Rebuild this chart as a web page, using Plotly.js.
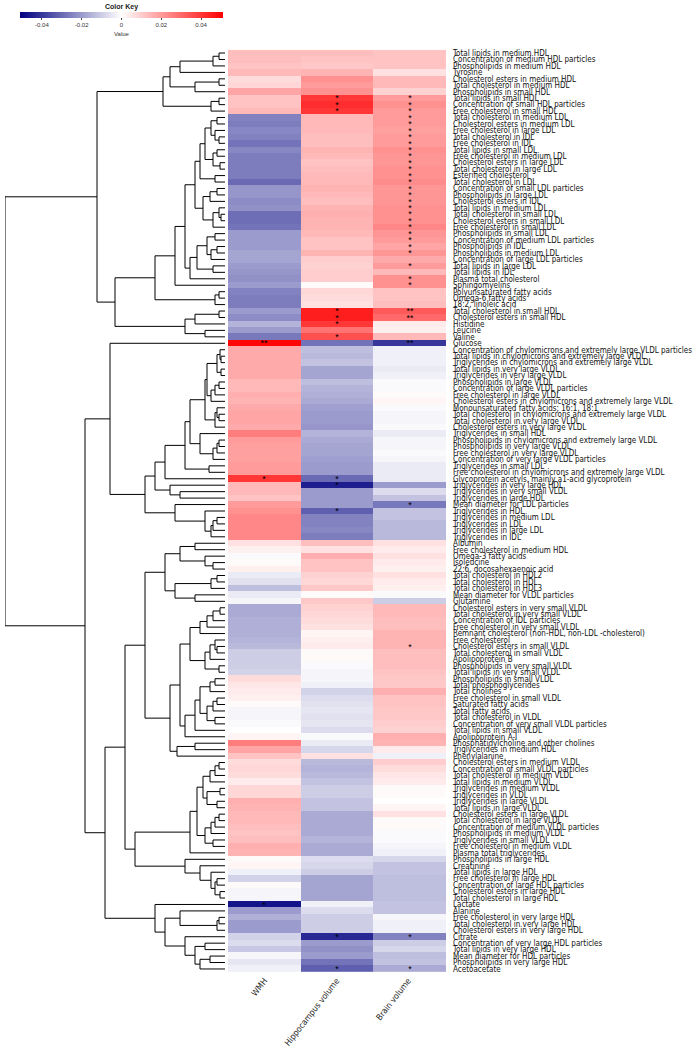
<!DOCTYPE html>
<html><head><meta charset="utf-8">
<script src="https://cdn.plot.ly/plotly-3.0.1.min.js"></script>
<style>body{margin:0;padding:0;background:#fff}#chart{width:700px;height:1052px}</style>
</head><body><div id="chart"></div>
<script>
const labels = [
"Total lipids in medium HDL","Concentration of medium HDL particles","Phospholipids in medium HDL","Tyrosine",
"Cholesterol esters in medium HDL","Total cholesterol in medium HDL","Phospholipids in small HDL","Total lipids in small HDL",
"Concentration of small HDL particles","Free cholesterol in small HDL","Total cholesterol in medium LDL","Cholesterol esters in medium LDL",
"Free cholesterol in large LDL","Total cholesterol in IDL","Free cholesterol in IDL","Total lipids in small LDL",
"Free cholesterol in medium LDL","Cholesterol esters in large LDL","Total cholesterol in large LDL","Esterified cholesterol",
"Total cholesterol in LDL","Concentration of small LDL particles","Phospholipids in large LDL","Cholesterol esters in IDL",
"Total lipids in medium LDL","Total cholesterol in small LDL","Cholesterol esters in small LDL","Free cholesterol in small LDL",
"Phospholipids in small LDL","Concentration of medium LDL particles","Phospholipids in IDL","Phospholipids in medium LDL",
"Concentration of large LDL particles","Total lipids in large LDL","Total lipids in IDL","Plasma total cholesterol",
"Sphingomyelins","Polyunsaturated fatty acids","Omega-6 fatty acids","18:2, linoleic acid",
"Total cholesterol in small HDL","Cholesterol esters in small HDL","Histidine","Leucine","Valine","Glucose",
"Concentration of chylomicrons and extremely large VLDL particles","Total lipids in chylomicrons and extremely large VLDL",
"Triglycerides in chylomicrons and extremely large VLDL","Total lipids in very large VLDL","Triglycerides in very large VLDL",
"Phospholipids in large VLDL","Concentration of large VLDL particles","Free cholesterol in large VLDL",
"Cholesterol esters in chylomicrons and extremely large VLDL","Monounsaturated fatty acids; 16:1, 18:1",
"Total cholesterol in chylomicrons and extremely large VLDL","Total cholesterol in very large VLDL","Cholesterol esters in very large VLDL",
"Triglycerides in small HDL","Phospholipids in chylomicrons and extremely large VLDL","Phospholipids in very large VLDL",
"Free cholesterol in very large VLDL","Concentration of very large VLDL particles","Triglycerides in small LDL",
"Free cholesterol in chylomicrons and extremely large VLDL","Glycoprotein acetyls, mainly a1-acid glycoprotein",
"Triglycerides in very large HDL","Triglycerides in very small VLDL","Triglycerides in large HDL","Mean diameter for LDL particles",
"Triglycerides in HDL","Triglycerides in medium LDL","Triglycerides in LDL","Triglycerides in large LDL","Triglycerides in IDL",
"Albumin","Free cholesterol in medium HDL","Omega-3 fatty acids","Isoleucine","22:6, docosahexaenoic acid",
"Total cholesterol in HDL2","Total cholesterol in HDL","Total cholesterol in HDL3","Mean diameter for VLDL particles","Glutamine",
"Cholesterol esters in very small VLDL","Total cholesterol in very small VLDL","Concentration of IDL particles",
"Free cholesterol in very small VLDL","Remnant cholesterol (non-HDL, non-LDL -cholesterol)","Free cholesterol",
"Cholesterol esters in small VLDL","Total cholesterol in small VLDL","Apolipoprotein B","Phospholipids in very small VLDL",
"Total lipids in very small VLDL","Phospholipids in small VLDL","Total phosphoglycerides","Total cholines",
"Free cholesterol in small VLDL","Saturated fatty acids","Total fatty acids","Total cholesterol in VLDL",
"Concentration of very small VLDL particles","Total lipids in small VLDL","Apolipoprotein A-I",
"Phosphatidylcholine and other cholines","Triglycerides in medium HDL","Phenylalanine","Cholesterol esters in medium VLDL",
"Concentration of small VLDL particles","Total cholesterol in medium VLDL","Total lipids in medium VLDL",
"Triglycerides in medium VLDL","Triglycerides in VLDL","Triglycerides in large VLDL","Total lipids in large VLDL",
"Cholesterol esters in large VLDL","Total cholesterol in large VLDL","Concentration of medium VLDL particles",
"Phospholipids in medium VLDL","Triglycerides in small VLDL","Free cholesterol in medium VLDL","Plasma total triglycerides",
"Phospholipids in large HDL","Creatinine","Total lipids in large HDL","Free cholesterol in large HDL",
"Concentration of large HDL particles","Cholesterol esters in large HDL","Total cholesterol in large HDL","Lactate","Alanine",
"Free cholesterol in very large HDL","Total cholesterol in very large HDL","Cholesterol esters in very large HDL","Citrate",
"Concentration of very large HDL particles","Total lipids in very large HDL","Mean diameter for HDL particles",
"Phospholipids in very large HDL","Acetoacetate"];

const columns = ["WMH", "Hippocampus volume", "Brain volume"];

const wmh = [
0.013,0.013,0.012,0.014,0.007,0.008,0.018,0.012,0.012,0.014,
-0.025,-0.026,-0.024,-0.025,-0.028,-0.024,-0.026,-0.026,-0.026,-0.026,
-0.030,-0.021,-0.021,-0.023,-0.022,-0.029,-0.029,-0.028,-0.020,-0.020,
-0.020,-0.018,-0.018,-0.020,-0.021,-0.022,-0.020,-0.025,-0.026,-0.026,
-0.020,-0.023,-0.015,-0.020,-0.027,0.050,0.017,0.017,0.017,0.017,
0.017,0.014,0.014,0.016,0.015,0.017,0.018,0.018,0.017,0.026,
0.020,0.019,0.019,0.019,0.020,0.020,0.040,0.014,0.014,0.012,
0.020,0.022,0.024,0.024,0.024,0.024,0.006,0.003,-0.001,0.001,
0.003,-0.004,-0.006,-0.013,-0.004,-0.002,-0.017,-0.017,-0.016,-0.016,
-0.016,-0.015,-0.014,-0.010,-0.010,-0.010,-0.009,0.007,0.005,0.004,
0.003,0.001,-0.002,-0.002,-0.001,0.000,0.002,0.026,0.018,0.012,
0.007,0.008,0.007,0.004,0.008,0.008,0.016,0.015,0.014,0.014,
0.013,0.012,0.013,0.016,0.015,0.001,0.002,-0.003,-0.009,0.001,
-0.002,-0.002,-0.047,-0.020,-0.016,-0.020,-0.020,-0.009,-0.007,-0.011,
-0.002,-0.005,-0.003];

const hippo = [
0.013,0.012,0.011,0.015,0.022,0.020,0.022,0.040,0.042,0.040,
0.014,0.014,0.014,0.013,0.013,0.015,0.014,0.012,0.013,0.014,
0.014,0.015,0.014,0.013,0.015,0.016,0.015,0.015,0.014,0.012,
0.012,0.015,0.010,0.009,0.010,0.010,0.001,0.008,0.007,0.006,
0.045,0.045,0.040,0.028,0.035,-0.028,-0.013,-0.014,-0.012,-0.018,
-0.018,-0.013,-0.015,-0.016,-0.017,-0.019,-0.020,-0.020,-0.021,-0.015,
-0.017,-0.018,-0.018,-0.019,-0.020,-0.020,-0.030,-0.045,-0.020,-0.020,
-0.020,-0.032,-0.025,-0.025,-0.024,-0.026,0.013,0.006,0.016,0.012,
0.012,0.009,0.008,0.011,0.001,0.011,0.009,0.008,0.007,0.006,
0.002,0.003,0.004,0.001,0.001,-0.001,-0.002,-0.002,-0.003,-0.009,
-0.007,-0.006,-0.005,-0.006,-0.005,-0.007,-0.001,-0.004,-0.008,0.006,
-0.014,-0.015,-0.014,-0.012,-0.010,-0.010,-0.012,-0.012,-0.017,-0.017,
-0.017,-0.017,-0.015,-0.017,-0.017,-0.007,-0.008,-0.010,-0.018,-0.018,
-0.018,-0.018,-0.003,-0.007,-0.010,-0.010,-0.010,-0.043,-0.020,-0.022,
-0.020,-0.028,-0.032];

const brain = [
0.012,0.012,0.012,0.006,0.014,0.014,0.009,0.020,0.022,0.020,
0.020,0.020,0.019,0.020,0.020,0.022,0.021,0.021,0.022,0.022,
0.023,0.021,0.021,0.021,0.022,0.022,0.022,0.024,0.021,0.020,
0.018,0.021,0.017,0.020,0.014,0.022,0.022,0.012,0.012,0.013,
0.033,0.030,0.004,0.003,0.014,-0.040,-0.003,-0.003,-0.003,-0.004,
-0.003,-0.001,-0.001,0.001,0.002,-0.001,-0.002,-0.002,-0.001,-0.004,
-0.002,-0.002,-0.001,-0.002,-0.004,-0.004,-0.004,-0.020,-0.007,-0.012,
-0.027,-0.012,-0.012,-0.014,-0.014,-0.014,0.006,0.004,0.006,0.004,
0.003,0.006,0.004,0.003,-0.001,-0.010,0.014,0.014,0.013,0.013,
0.015,0.015,0.015,0.013,0.013,0.013,0.012,0.011,0.011,0.016,
0.012,0.012,0.011,0.011,0.010,0.009,0.016,0.015,0.004,-0.003,
0.010,0.007,0.005,0.004,0.001,0.001,0.000,0.002,0.006,0.001,
0.001,-0.001,-0.001,-0.002,-0.003,-0.008,-0.012,-0.012,-0.013,-0.013,
-0.013,-0.013,-0.012,-0.012,-0.002,-0.003,-0.003,-0.025,-0.010,-0.008,
-0.013,-0.012,-0.017];

// significance marks: [row number (1-based), mark]
const sigWMH = [[46,"**"],[67,"*"],[133,"*"]];
const sigHippo = [[8,"*"],[9,"*"],[10,"*"],[41,"*"],[42,"*"],[43,"*"],[45,"*"],[67,"*"],[68,"*"],[72,"*"],[138,"*"],[143,"*"]];
const sigBrain = [[8,"*"],[9,"*"],[10,"*"],[11,"*"],[12,"*"],[13,"*"],[14,"*"],[15,"*"],[16,"*"],[17,"*"],[18,"*"],[19,"*"],
[20,"*"],[21,"*"],[22,"*"],[23,"*"],[24,"*"],[25,"*"],[26,"*"],[27,"*"],[28,"*"],[29,"*"],[30,"*"],[31,"*"],[32,"*"],
[34,"*"],[36,"*"],[37,"*"],[41,"**"],[42,"**"],[46,"**"],[71,"*"],[93,"*"],[138,"*"],[143,"*"]];

// dendrogram: merge height between adjacent leaves i and i+1 (rows in display order)
const gapHeights = [
6,12,45,55,6,30,62,6,14,128,
8,14,10,6,20,8,12,5,25,10,
30,8,15,22,6,4,12,40,10,18,
8,14,28,12,35,50,70,6,10,110,
6,30,40,20,220,115,5,4,8,4,
18,6,10,14,20,8,6,10,35,25,
6,8,12,40,16,60,70,55,45,80,
50,20,8,12,14,140,30,45,20,12,
60,8,14,50,30,80,5,12,18,25,
35,10,8,15,20,6,45,10,15,25,
8,12,18,10,30,40,55,30,48,100,
6,10,15,22,5,18,8,28,6,10,
14,20,12,35,90,40,25,14,8,10,
5,120,70,45,6,8,60,40,20,30,
15,25];

const nRows = labels.length;
const idx = labels.map((_, i) => i);
const z = idx.map(i => [wmh[i], hippo[i], brain[i]]);
const txt = idx.map(() => ["", "", ""]);
sigWMH.forEach(([r, m]) => { txt[r - 1][0] = m; });
sigHippo.forEach(([r, m]) => { txt[r - 1][1] = m; });
sigBrain.forEach(([r, m]) => { txt[r - 1][2] = m; });

// build dendrogram segments
const dx = [], dy = [];
function seg(x0, y0, x1, y1) { dx.push(x0, x1, null); dy.push(y0, y1, null); }
function build(a, b) {
  if (a === b) return { y: a, h: 0 };
  let k = a;
  for (let j = a; j < b; j++) if (gapHeights[j] > gapHeights[k]) k = j;
  const L = build(a, k), R = build(k + 1, b), h = gapHeights[k];
  seg(L.h, L.y, h, L.y); seg(R.h, R.y, h, R.y); seg(h, L.y, h, R.y);
  return { y: (L.y + R.y) / 2, h: h };
}
const rootNode = build(0, nRows - 1);

const W = 700, H = 1052;
const hmTop = 49.8, hmBottom = 972.2;
const yDom = [1 - hmBottom / H, 1 - hmTop / H];
const colLabelX = [272, 344, 416];

const data = [
  {
    type: "heatmap", x: [0, 1, 2], y: idx, z: z,
    text: txt, texttemplate: "%{text}", textfont: { size: 9, color: "#000" },
    colorscale: [[0, "#000080"], [0.5, "#ffffff"], [1, "#ff0000"]],
    zmin: -0.051, zmax: 0.051, hoverinfo: "skip",
    colorbar: {
      orientation: "h", x: 121.5 / W, xanchor: "center", y: 1 - 12.3 / H, yanchor: "top",
      len: 203 / W, lenmode: "fraction", thickness: 6, outlinewidth: 0, xpad: 0, ypad: 0,
      tickvals: [-0.04, -0.02, 0, 0.02, 0.04], ticktext: ["-0.04", "-0.02", "0", "0.02", "0.04"],
      ticks: "outside", ticklen: 2, tickcolor: "#444", tickfont: { size: 6, color: "#333", family: "Liberation Sans, Arial" },
      title: { text: "Value", side: "bottom", font: { size: 6, color: "#333", family: "Liberation Sans, Arial" } }
    }
  },
  {
    type: "scatter", mode: "lines", x: dx, y: dy, xaxis: "x2", yaxis: "y2",
    line: { color: "#000", width: 1 }, hoverinfo: "skip", showlegend: false
  }
];

const annotations = [
  { text: "<b>Color Key</b>", x: 121.5 / W, y: 1 - 7 / H, xref: "paper", yref: "paper",
    xanchor: "center", yanchor: "middle", showarrow: false, font: { size: 7, color: "#222" } }
];
columns.forEach((c, i) => annotations.push({
  text: c, x: colLabelX[i] / W, y: 1 - 973 / H, xref: "paper", yref: "paper",
  xanchor: "right", yanchor: "top", textangle: -52, showarrow: false,
  font: { size: 8.5, color: "#222", family: "DejaVu Sans Condensed, Liberation Sans, Arial" }
}));

const layout = {
  width: W, height: H, margin: { l: 0, r: 0, t: 0, b: 0 },
  paper_bgcolor: "#fff", plot_bgcolor: "#fff", showlegend: false,
  font: { family: "Liberation Sans, Arial, sans-serif", color: "#000" },
  xaxis: {
    domain: [228 / W, 446 / W], range: [-0.5, 2.5], showticklabels: false, ticks: "",
    showgrid: false, zeroline: false, showline: false, fixedrange: true
  },
  yaxis: {
    domain: yDom, range: [nRows - 0.5, -0.5], tickvals: idx, ticktext: labels, side: "right",
    ticks: "", ticklabelstandoff: 6, tickfont: { size: 8, color: "#111", family: "DejaVu Sans Condensed, Liberation Sans, Arial" },
    showgrid: false, zeroline: false, showline: false, fixedrange: true, anchor: "x"
  },
  xaxis2: {
    domain: [5 / W, 225 / W], range: [rootNode.h, 0], visible: false, anchor: "y2", fixedrange: true
  },
  yaxis2: {
    domain: yDom, range: [nRows - 0.5, -0.5], visible: false, anchor: "x2", fixedrange: true
  },
  annotations: annotations
};

Plotly.newPlot("chart", data, layout, { displayModeBar: false, staticPlot: true });
</script>
</body></html>
